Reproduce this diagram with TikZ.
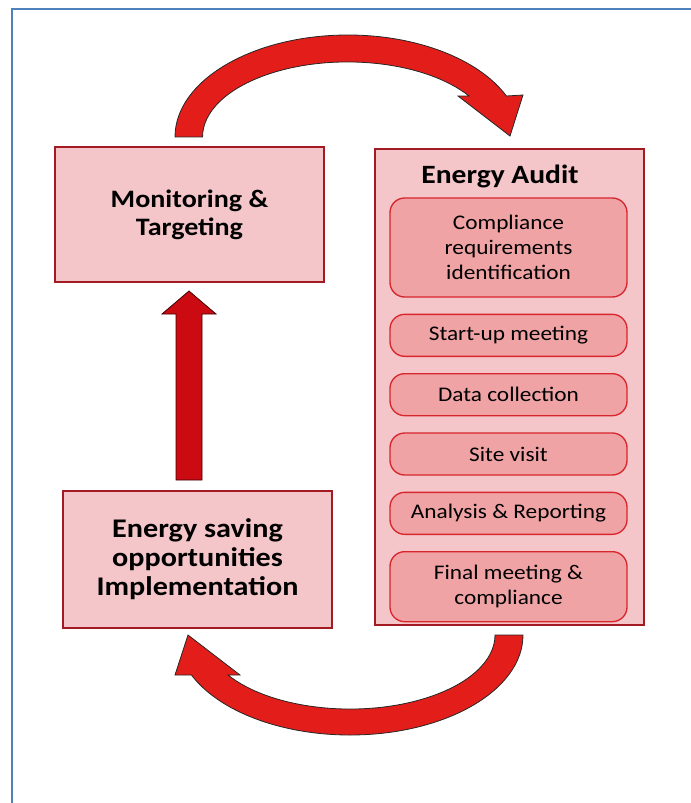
\documentclass[tikz,border=0pt]{standalone}
\usepackage{fontspec}
\setmainfont{Carlito}[FakeStretch=1.12]
\usepackage{tikz}
\usetikzlibrary{positioning, calc}

\definecolor{phasefill}{HTML}{F5C6C9}
\definecolor{phaseline}{HTML}{A31B22}
\definecolor{stepfill}{HTML}{F0A3A5}
\definecolor{stepline}{HTML}{D8262D}
\definecolor{bendred}{HTML}{E31E1A}
\definecolor{upred}{HTML}{CB0A12}
\definecolor{frameblue}{HTML}{4F81BD}

\tikzset{
    phase/.style={rectangle, draw=phaseline, fill=phasefill, line width=1.5pt, minimum width=201.75pt, align=center, font=\fontsize{18.8}{21}\selectfont\bfseries},
    stepbox/.style={rectangle, draw=stepline, fill=stepfill, line width=1pt, rounded corners=11pt, minimum width=177.75pt, align=center, font=\fontsize{15.6}{18.75}\selectfont},
    curvearrow/.style={fill=bendred, draw=black!85, line width=0.6pt},
}

\begin{document}
\begin{tikzpicture}[x=0.75pt, y=0.75pt]
    \useasboundingbox (0,0) rectangle (691,-803);
    % frame of the page
    \draw [frameblue, line width=1.5pt] (12,-803) -- (12,-9) -- (691,-9);

    % the three phases
    \node [phase, minimum height=101.25pt] (mt) at (189.5,-214.5) {Monitoring \&\\Targeting};
    \node [phase, minimum height=357pt] (audit) at (509.5,-387) {};
    \node [phase, minimum height=102.75pt, font=\fontsize{20.2}{21.5}\selectfont\bfseries] (eso) at (197.5,-559) {Energy saving\\opportunities\\Implementation};

    % steps of the audit
    \node [font=\fontsize{19.8}{22}\selectfont\bfseries] (title) at (500,-176) {Energy Audit};
    \node [stepbox, minimum height=74.25pt] (comp) at (508.5,-247.5) {Compliance\\requirements\\identification};
    \node [stepbox, minimum height=31.5pt, below=12pt of comp] (start) {Start-up meeting};
    \node [stepbox, minimum height=31.5pt, below=12pt of start] (data) {Data collection};
    \node [stepbox, minimum height=31.5pt, below=12pt of data] (site) {Site visit};
    \node [stepbox, minimum height=31.5pt, below=12pt of site] (report) {Analysis \& Reporting};
    \node [stepbox, minimum height=52.5pt, below=12pt of report] (final) {Final meeting \&\\compliance};

    % curved arrow over the top
    \draw [curvearrow] (175,-137) arc [start angle=180, end angle=23.7, x radius=173, y radius=102]
        -- (523,-95) -- (510,-136) -- (458,-96) -- (469,-96)
        arc [start angle=33.1, end angle=180, x radius=145, y radius=75] -- cycle;
    % curved arrow under the bottom
    \draw [curvearrow] (523,-635) arc [start angle=0, end angle=-156.4, x radius=173, y radius=100]
        -- (175,-675) -- (188,-635) -- (240,-675) -- (228,-675)
        arc [start angle=-147.3, end angle=0, x radius=145, y radius=74] -- cycle;
    % straight arrow upwards
    \draw [fill=upred, draw=black!75!red, line width=0.6pt] (176,-480) -- (176,-314) -- (162,-314)
        -- (189,-291) -- (216,-314) -- (202,-314) -- (202,-480) -- cycle;
\end{tikzpicture}
\end{document}
